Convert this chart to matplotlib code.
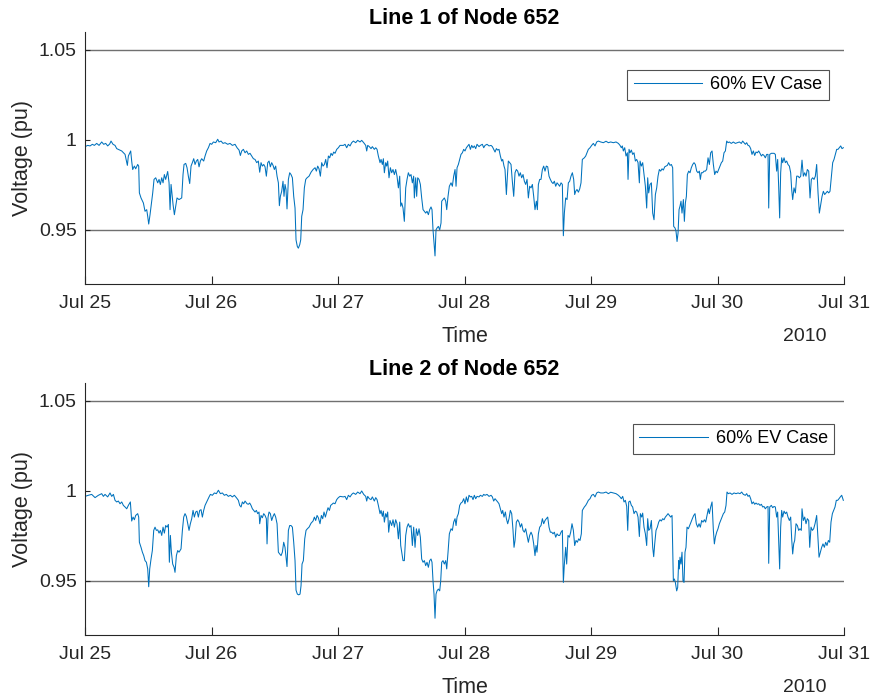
import numpy as np
import pandas as pd
import matplotlib
matplotlib.use('Agg')
import matplotlib.pyplot as plt
import matplotlib.dates as mdates

plt.rcParams['font.family'] = ['Liberation Sans', 'DejaVu Sans']

# hours after 2010-07-25 00:00, voltage in pu
line1 = [
    (0.00, 0.9963), (0.51, 0.9970), (0.95, 0.9967), (1.39, 0.9976), (1.77, 0.9970), (2.21, 0.9981),
    (2.66, 0.9970), (3.16, 0.9989), (3.54, 0.9976), (3.92, 0.9981), (4.30, 0.9967), (4.68, 0.9978),
    (4.93, 0.9994), (5.31, 0.9976), (5.69, 0.9970), (6.01, 0.9952), (6.96, 0.9939), (7.59, 0.9920),
    (8.03, 0.9859), (8.22, 0.9911), (8.66, 0.9939), (8.85, 0.9883), (9.04, 0.9836), (9.36, 0.9855),
    (9.61, 0.9840), (9.99, 0.9864), (10.18, 0.9855), (10.31, 0.9706), (10.62, 0.9678), (11.07, 0.9650),
    (11.38, 0.9604), (11.70, 0.9613), (11.89, 0.9576), (12.08, 0.9533), (12.33, 0.9585), (12.65, 0.9660),
    (12.84, 0.9706), (13.09, 0.9781), (13.41, 0.9790), (13.79, 0.9762), (14.04, 0.9781), (14.29, 0.9753),
    (14.55, 0.9790), (14.80, 0.9762), (15.05, 0.9808), (15.30, 0.9781), (15.68, 0.9825), (15.94, 0.9762),
    (16.13, 0.9613), (16.32, 0.9753), (16.51, 0.9697), (16.70, 0.9641), (16.95, 0.9585), (17.20, 0.9632),
    (17.45, 0.9678), (17.83, 0.9669), (18.34, 0.9678), (18.59, 0.9808), (18.78, 0.9864), (19.10, 0.9870),
    (19.35, 0.9846), (19.60, 0.9799), (19.86, 0.9758), (20.11, 0.9855), (20.36, 0.9874), (20.62, 0.9896),
    (20.87, 0.9864), (21.12, 0.9883), (21.38, 0.9892), (21.63, 0.9851), (21.88, 0.9883), (22.13, 0.9896),
    (22.51, 0.9883), (22.77, 0.9911), (23.08, 0.9939), (23.40, 0.9957), (23.72, 0.9981), (24.03, 0.9976),
    (24.35, 0.9989), (24.79, 0.9985), (25.17, 1.0004), (25.42, 0.9989), (25.80, 0.9994), (26.18, 0.9981),
    (26.56, 0.9985), (27.07, 0.9976), (27.51, 0.9981), (27.95, 0.9970), (28.46, 0.9976), (28.84, 0.9957),
    (29.22, 0.9944), (29.47, 0.9914), (29.72, 0.9939), (30.04, 0.9948), (30.36, 0.9929), (30.67, 0.9939),
    (30.99, 0.9920), (31.30, 0.9926), (31.62, 0.9911), (31.94, 0.9896), (32.25, 0.9892), (32.57, 0.9874),
    (32.88, 0.9883), (33.14, 0.9821), (33.39, 0.9874), (33.64, 0.9855), (33.90, 0.9864), (34.15, 0.9851),
    (34.40, 0.9799), (34.66, 0.9874), (34.91, 0.9883), (35.16, 0.9851), (35.41, 0.9874), (35.67, 0.9859),
    (35.92, 0.9836), (36.17, 0.9855), (36.43, 0.9799), (36.68, 0.9762), (36.87, 0.9635), (37.06, 0.9687),
    (37.31, 0.9715), (37.56, 0.9771), (37.75, 0.9687), (37.94, 0.9753), (38.13, 0.9725), (38.32, 0.9617),
    (38.58, 0.9781), (38.83, 0.9818), (39.08, 0.9808), (39.34, 0.9790), (39.59, 0.9687), (39.84, 0.9622),
    (40.03, 0.9445), (40.28, 0.9408), (40.47, 0.9399), (40.73, 0.9418), (40.92, 0.9445), (41.11, 0.9576),
    (41.36, 0.9613), (41.61, 0.9734), (41.87, 0.9781), (42.12, 0.9790), (42.50, 0.9799), (42.88, 0.9821),
    (43.26, 0.9836), (43.64, 0.9846), (43.89, 0.9827), (44.14, 0.9855), (44.39, 0.9840), (44.65, 0.9799),
    (44.90, 0.9874), (45.15, 0.9855), (45.41, 0.9864), (45.66, 0.9892), (45.91, 0.9846), (46.17, 0.9911),
    (46.42, 0.9901), (46.67, 0.9926), (46.92, 0.9914), (47.18, 0.9933), (47.43, 0.9926), (47.75, 0.9948),
    (48.06, 0.9957), (48.38, 0.9970),
    (49.01, 0.9970), (49.33, 0.9976), (49.64, 0.9957), (49.96, 0.9976), (50.28, 0.9967), (50.59, 0.9985),
    (50.91, 0.9994), (51.35, 0.9985), (51.73, 0.9998), (52.17, 0.9989), (52.49, 0.9998), (52.87, 0.9985),
    (53.25, 0.9970), (53.44, 0.9939), (53.63, 0.9970), (53.94, 0.9963), (54.26, 0.9952), (54.51, 0.9963),
    (54.89, 0.9948), (55.15, 0.9957), (55.40, 0.9948), (55.65, 0.9911), (55.97, 0.9874), (56.16, 0.9892),
    (56.41, 0.9864), (56.60, 0.9896), (56.79, 0.9818), (57.04, 0.9874), (57.23, 0.9855), (57.42, 0.9883),
    (57.67, 0.9790), (57.93, 0.9846), (58.18, 0.9818), (58.43, 0.9836), (58.69, 0.9808), (58.94, 0.9836),
    (59.19, 0.9799), (59.45, 0.9734), (59.70, 0.9799), (59.89, 0.9632), (60.08, 0.9650), (60.33, 0.9622),
    (60.58, 0.9548), (60.84, 0.9734), (61.09, 0.9781), (61.34, 0.9818), (61.60, 0.9799), (61.85, 0.9808),
    (62.10, 0.9762), (62.35, 0.9799), (62.48, 0.9678), (62.73, 0.9790), (62.92, 0.9687), (63.11, 0.9790),
    (63.37, 0.9781), (63.62, 0.9753), (63.87, 0.9678), (64.13, 0.9613), (64.38, 0.9604), (64.63, 0.9594),
    (64.88, 0.9604), (65.14, 0.9585), (65.39, 0.9613), (65.64, 0.9628), (65.83, 0.9613), (66.02, 0.9501),
    (66.21, 0.9427), (66.40, 0.9356), (66.59, 0.9501), (66.78, 0.9511), (67.03, 0.9520), (67.29, 0.9501),
    (67.54, 0.9539), (67.67, 0.9660), (67.92, 0.9669), (68.17, 0.9678), (68.43, 0.9660), (68.62, 0.9613),
    (68.87, 0.9687), (69.12, 0.9743), (69.44, 0.9762), (69.69, 0.9743), (69.94, 0.9799), (70.20, 0.9836),
    (70.39, 0.9743), (70.58, 0.9846), (70.83, 0.9864), (71.08, 0.9892), (71.33, 0.9920), (71.59, 0.9929),
    (71.84, 0.9948), (72.09, 0.9939), (72.35, 0.9957), (72.60, 0.9967), (72.85, 0.9976), (73.11, 0.9948),
    (73.36, 0.9970), (73.61, 0.9957), (73.86, 0.9967), (74.12, 0.9952), (74.37, 0.9976), (74.75, 0.9963),
    (75.00, 0.9970), (75.38, 0.9976), (75.64, 0.9957), (75.89, 0.9970), (76.27, 0.9976), (76.65, 0.9967),
    (77.03, 0.9970), (77.28, 0.9963), (77.53, 0.9948), (77.79, 0.9933), (78.04, 0.9952), (78.29, 0.9944),
    (78.54, 0.9948), (78.80, 0.9911), (79.05, 0.9883), (79.24, 0.9892), (79.49, 0.9855), (79.68, 0.9836),
    (79.94, 0.9697), (80.13, 0.9799), (80.31, 0.9883), (80.57, 0.9874), (80.82, 0.9864), (81.07, 0.9771),
    (81.33, 0.9687), (81.58, 0.9818), (81.83, 0.9836), (82.09, 0.9827), (82.34, 0.9799), (82.59, 0.9818),
    (82.84, 0.9790), (83.10, 0.9808), (83.35, 0.9771), (83.60, 0.9753), (83.86, 0.9781), (84.11, 0.9678),
    (84.36, 0.9743), (84.62, 0.9734), (84.87, 0.9753), (85.12, 0.9687), (85.37, 0.9613), (85.63, 0.9660),
    (85.82, 0.9613), (86.01, 0.9753), (86.26, 0.9781), (86.51, 0.9781), (86.77, 0.9836), (87.02, 0.9855),
    (87.27, 0.9827), (87.52, 0.9855), (87.78, 0.9851), (88.03, 0.9799), (88.28, 0.9781), (88.54, 0.9766),
    (88.79, 0.9758), (89.04, 0.9771), (89.30, 0.9743), (89.55, 0.9762), (89.80, 0.9753), (90.05, 0.9743),
    (90.31, 0.9762), (90.56, 0.9753), (90.75, 0.9468), (90.94, 0.9594), (91.19, 0.9678), (91.45, 0.9669),
    (91.70, 0.9762), (91.95, 0.9771), (92.20, 0.9799), (92.46, 0.9818), (92.71, 0.9781), (92.90, 0.9697),
    (93.09, 0.9715), (93.34, 0.9725), (93.60, 0.9710), (93.85, 0.9728), (94.10, 0.9762), (94.35, 0.9892),
    (94.73, 0.9901), (94.99, 0.9911), (95.24, 0.9929), (95.49, 0.9948), (95.81, 0.9957), (96.12, 0.9970),
    (96.44, 0.9981), (96.76, 0.9967),
    (97.07, 0.9989), (97.39, 0.9994), (97.83, 0.9989), (98.34, 0.9985), (98.85, 0.9993), (99.29, 0.9985),
    (99.73, 0.9989), (100.24, 0.9985), (100.74, 0.9989), (101.19, 0.9981), (101.50, 0.9970), (101.75, 0.9957),
    (101.94, 0.9967), (102.13, 0.9939), (102.39, 0.9957), (102.64, 0.9911), (102.89, 0.9929), (103.02, 0.9781),
    (103.21, 0.9948), (103.40, 0.9929), (103.65, 0.9944), (103.90, 0.9920), (104.16, 0.9929), (104.41, 0.9883),
    (104.66, 0.9892), (104.92, 0.9874), (105.17, 0.9762), (105.30, 0.9883), (105.55, 0.9855), (105.80, 0.9874),
    (106.05, 0.9808), (106.31, 0.9743), (106.56, 0.9622), (106.75, 0.9790), (106.94, 0.9706), (107.19, 0.9753),
    (107.45, 0.9762), (107.70, 0.9594), (107.95, 0.9557), (108.21, 0.9697), (108.46, 0.9734), (108.71, 0.9799),
    (108.96, 0.9836), (109.22, 0.9827), (109.47, 0.9840), (109.72, 0.9833), (109.98, 0.9851), (110.23, 0.9855),
    (110.48, 0.9859), (110.73, 0.9874), (110.99, 0.9859), (111.24, 0.9864), (111.49, 0.9846), (111.68, 0.9520),
    (111.94, 0.9511), (112.13, 0.9492), (112.32, 0.9436), (112.51, 0.9483), (112.70, 0.9613), (112.88, 0.9632),
    (113.07, 0.9660), (113.26, 0.9594), (113.52, 0.9669), (113.71, 0.9548), (113.90, 0.9650), (114.09, 0.9687),
    (114.28, 0.9808), (114.53, 0.9827), (114.78, 0.9818), (115.03, 0.9846), (115.29, 0.9864), (115.54, 0.9874),
    (115.79, 0.9864), (116.05, 0.9827), (116.30, 0.9818), (116.55, 0.9827), (116.74, 0.9781), (116.93, 0.9818),
    (117.19, 0.9818), (117.44, 0.9827), (117.69, 0.9827), (117.94, 0.9836), (118.20, 0.9901), (118.45, 0.9864),
    (118.70, 0.9929), (118.96, 0.9939), (119.21, 0.9864), (119.46, 0.9808), (119.71, 0.9827), (119.97, 0.9818),
    (120.22, 0.9836), (120.47, 0.9855), (120.73, 0.9874), (120.98, 0.9883), (121.23, 0.9929), (121.49, 0.9939),
    (121.74, 0.9994), (121.99, 0.9985), (122.24, 0.9989), (122.62, 0.9981), (123.00, 0.9989), (123.38, 0.9981),
    (123.76, 0.9985), (124.14, 0.9989), (124.52, 0.9981), (124.77, 0.9994), (125.03, 0.9985), (125.28, 0.9976),
    (125.53, 0.9985), (125.79, 0.9970), (126.04, 0.9967), (126.29, 0.9952), (126.54, 0.9920), (126.80, 0.9939),
    (127.05, 0.9914), (127.30, 0.9933), (127.56, 0.9929), (127.81, 0.9939), (128.06, 0.9926), (128.32, 0.9911),
    (128.57, 0.9920), (128.82, 0.9914), (129.07, 0.9901), (129.33, 0.9920), (129.58, 0.9920), (129.71, 0.9622),
    (129.90, 0.9920), (130.21, 0.9926), (130.47, 0.9926), (130.72, 0.9926), (130.97, 0.9920), (131.22, 0.9827),
    (131.41, 0.9892), (131.60, 0.9743), (131.79, 0.9567), (131.98, 0.9818), (132.17, 0.9901), (132.36, 0.9874),
    (132.62, 0.9901), (132.87, 0.9874), (133.12, 0.9883), (133.37, 0.9864), (133.63, 0.9855), (133.88, 0.9818),
    (134.07, 0.9725), (134.26, 0.9669), (134.51, 0.9734), (134.77, 0.9706), (135.02, 0.9799), (135.27, 0.9799),
    (135.53, 0.9790), (135.78, 0.9799), (136.03, 0.9888), (136.28, 0.9799), (136.54, 0.9818), (136.79, 0.9799),
    (137.04, 0.9836), (137.30, 0.9827), (137.55, 0.9678), (137.80, 0.9781), (138.05, 0.9790), (138.31, 0.9781),
    (138.56, 0.9799), (138.81, 0.9864), (139.07, 0.9706), (139.32, 0.9594), (139.57, 0.9641), (139.83, 0.9687),
    (140.08, 0.9715), (140.33, 0.9697), (140.58, 0.9706), (140.84, 0.9715), (141.09, 0.9706), (141.34, 0.9715),
    (141.60, 0.9799), (141.85, 0.9874), (142.10, 0.9892), (142.35, 0.9920), (142.61, 0.9948), (142.86, 0.9948),
    (143.11, 0.9957), (143.37, 0.9967), (143.62, 0.9952), (143.87, 0.9957),
]

line2 = [
    (0.00, 0.9970), (0.63, 0.9976), (1.26, 0.9981), (1.90, 0.9963), (2.53, 0.9976), (3.16, 0.9985),
    (3.48, 0.9970), (3.79, 0.9981), (4.30, 0.9967), (4.74, 0.9989), (5.06, 0.9970), (5.38, 0.9981),
    (5.69, 0.9948), (6.01, 0.9939), (6.32, 0.9944), (6.64, 0.9929), (6.96, 0.9939), (7.27, 0.9920),
    (7.59, 0.9911), (7.91, 0.9901), (8.22, 0.9920), (8.60, 0.9939), (8.85, 0.9833), (9.11, 0.9855),
    (9.36, 0.9840), (9.61, 0.9864), (9.99, 0.9874), (10.18, 0.9855), (10.31, 0.9715), (10.62, 0.9687),
    (10.88, 0.9660), (11.13, 0.9641), (11.38, 0.9613), (11.64, 0.9604), (11.89, 0.9567), (12.08, 0.9468),
    (12.27, 0.9567), (12.52, 0.9622), (12.77, 0.9669), (13.03, 0.9781), (13.28, 0.9799), (13.53, 0.9781),
    (13.79, 0.9784), (14.04, 0.9766), (14.29, 0.9781), (14.55, 0.9753), (14.80, 0.9799), (15.05, 0.9766),
    (15.30, 0.9808), (15.56, 0.9799), (15.81, 0.9814), (16.00, 0.9604), (16.19, 0.9753), (16.38, 0.9660),
    (16.63, 0.9594), (16.89, 0.9576), (17.07, 0.9548), (17.33, 0.9641), (17.58, 0.9669), (17.83, 0.9660),
    (18.21, 0.9678), (18.47, 0.9781), (18.72, 0.9855), (18.97, 0.9874), (19.22, 0.9859), (19.48, 0.9818),
    (19.73, 0.9781), (19.98, 0.9818), (20.24, 0.9846), (20.49, 0.9892), (20.74, 0.9855), (21.00, 0.9883),
    (21.25, 0.9888), (21.50, 0.9855), (21.75, 0.9892), (22.01, 0.9896), (22.26, 0.9855), (22.51, 0.9892),
    (22.77, 0.9920), (23.15, 0.9944), (23.53, 0.9967), (23.78, 0.9981), (24.16, 0.9976), (24.54, 0.9989),
    (24.92, 0.9985), (25.30, 1.0004), (25.68, 0.9985), (26.06, 0.9989), (26.43, 0.9976), (26.81, 0.9981),
    (27.19, 0.9970), (27.57, 0.9976), (27.95, 0.9967), (28.33, 0.9976), (28.71, 0.9963), (29.09, 0.9948),
    (29.34, 0.9920), (29.60, 0.9911), (29.85, 0.9939), (30.10, 0.9929), (30.36, 0.9944), (30.73, 0.9929),
    (30.99, 0.9926), (31.24, 0.9933), (31.49, 0.9920), (31.75, 0.9901), (32.00, 0.9892), (32.25, 0.9883),
    (32.51, 0.9892), (32.76, 0.9874), (33.01, 0.9883), (33.14, 0.9818), (33.39, 0.9864), (33.64, 0.9851),
    (33.90, 0.9874), (34.15, 0.9864), (34.40, 0.9846), (34.53, 0.9706), (34.72, 0.9855), (34.91, 0.9883),
    (35.16, 0.9874), (35.41, 0.9836), (35.67, 0.9859), (35.92, 0.9874), (36.17, 0.9855), (36.43, 0.9818),
    (36.68, 0.9660), (36.93, 0.9650), (37.19, 0.9641), (37.44, 0.9660), (37.69, 0.9715), (37.94, 0.9687),
    (38.20, 0.9613), (38.32, 0.9580), (38.58, 0.9781), (38.83, 0.9808), (39.08, 0.9808), (39.34, 0.9799),
    (39.59, 0.9715), (39.84, 0.9613), (40.03, 0.9449), (40.28, 0.9427), (40.54, 0.9423), (40.79, 0.9427),
    (40.98, 0.9474), (41.17, 0.9594), (41.42, 0.9613), (41.68, 0.9734), (41.93, 0.9781), (42.18, 0.9790),
    (42.50, 0.9799), (42.88, 0.9821), (43.26, 0.9833), (43.51, 0.9855), (43.76, 0.9836), (44.02, 0.9864),
    (44.27, 0.9851), (44.58, 0.9818), (44.84, 0.9864), (45.09, 0.9846), (45.34, 0.9883), (45.60, 0.9855),
    (45.85, 0.9883), (46.10, 0.9907), (46.36, 0.9892), (46.61, 0.9920), (46.86, 0.9926), (47.11, 0.9933),
    (47.43, 0.9929), (47.75, 0.9952), (48.06, 0.9963), (48.38, 0.9970),
    (49.01, 0.9967), (49.33, 0.9970), (49.64, 0.9952), (49.96, 0.9976), (50.28, 0.9967), (50.59, 0.9981),
    (50.91, 0.9989), (51.35, 0.9981), (51.73, 0.9994), (52.17, 0.9985), (52.49, 1.0000), (52.87, 0.9981),
    (53.25, 0.9970), (53.44, 0.9944), (53.63, 0.9970), (53.94, 0.9957), (54.26, 0.9952), (54.51, 0.9967),
    (54.89, 0.9944), (55.15, 0.9963), (55.40, 0.9952), (55.65, 0.9920), (55.97, 0.9874), (56.16, 0.9892),
    (56.41, 0.9859), (56.60, 0.9888), (56.79, 0.9827), (57.04, 0.9874), (57.23, 0.9855), (57.42, 0.9883),
    (57.61, 0.9771), (57.86, 0.9836), (58.18, 0.9808), (58.43, 0.9840), (58.69, 0.9799), (58.94, 0.9840),
    (59.19, 0.9818), (59.45, 0.9734), (59.70, 0.9827), (59.89, 0.9697), (60.08, 0.9660), (60.33, 0.9613),
    (60.58, 0.9613), (60.84, 0.9753), (61.09, 0.9799), (61.34, 0.9818), (61.60, 0.9799), (61.85, 0.9808),
    (62.10, 0.9697), (62.35, 0.9799), (62.61, 0.9687), (62.86, 0.9790), (63.11, 0.9753), (63.37, 0.9790),
    (63.62, 0.9743), (63.87, 0.9622), (64.13, 0.9604), (64.38, 0.9613), (64.63, 0.9585), (64.88, 0.9604),
    (65.14, 0.9576), (65.39, 0.9613), (65.64, 0.9622), (65.83, 0.9604), (66.02, 0.9501), (66.21, 0.9427),
    (66.40, 0.9293), (66.59, 0.9427), (66.78, 0.9445), (67.03, 0.9455), (67.29, 0.9445), (67.48, 0.9501),
    (67.67, 0.9604), (67.92, 0.9613), (68.17, 0.9594), (68.43, 0.9613), (68.62, 0.9567), (68.87, 0.9660),
    (69.12, 0.9762), (69.44, 0.9790), (69.69, 0.9781), (69.94, 0.9827), (70.20, 0.9846), (70.39, 0.9808),
    (70.58, 0.9855), (70.83, 0.9874), (71.08, 0.9920), (71.33, 0.9933), (71.59, 0.9939), (71.84, 0.9957),
    (72.09, 0.9929), (72.35, 0.9967), (72.60, 0.9939), (72.85, 0.9976), (73.11, 0.9967), (73.36, 0.9970),
    (73.61, 0.9952), (73.86, 0.9976), (74.12, 0.9957), (74.37, 0.9970), (74.75, 0.9967), (75.00, 0.9976),
    (75.38, 0.9970), (75.64, 0.9981), (75.89, 0.9976), (76.27, 0.9981), (76.65, 0.9970), (77.03, 0.9976),
    (77.28, 0.9967), (77.53, 0.9944), (77.79, 0.9957), (78.04, 0.9948), (78.29, 0.9939), (78.54, 0.9929),
    (78.80, 0.9901), (79.05, 0.9874), (79.24, 0.9892), (79.49, 0.9855), (79.75, 0.9883), (79.94, 0.9846),
    (80.19, 0.9818), (80.44, 0.9846), (80.69, 0.9892), (80.95, 0.9874), (81.20, 0.9781), (81.39, 0.9687),
    (81.58, 0.9725), (81.83, 0.9827), (82.09, 0.9840), (82.34, 0.9827), (82.59, 0.9799), (82.84, 0.9818),
    (83.10, 0.9781), (83.35, 0.9771), (83.60, 0.9790), (83.86, 0.9753), (84.11, 0.9715), (84.36, 0.9753),
    (84.62, 0.9771), (84.87, 0.9753), (85.12, 0.9706), (85.37, 0.9641), (85.56, 0.9697), (85.75, 0.9660),
    (86.01, 0.9762), (86.26, 0.9799), (86.51, 0.9808), (86.77, 0.9846), (87.02, 0.9818), (87.27, 0.9836),
    (87.52, 0.9846), (87.78, 0.9855), (88.03, 0.9799), (88.28, 0.9771), (88.54, 0.9771), (88.79, 0.9762),
    (89.04, 0.9771), (89.30, 0.9743), (89.55, 0.9762), (89.80, 0.9753), (90.05, 0.9753), (90.31, 0.9771),
    (90.56, 0.9781), (90.75, 0.9492), (90.94, 0.9594), (91.19, 0.9687), (91.38, 0.9594), (91.63, 0.9753),
    (91.89, 0.9743), (92.14, 0.9771), (92.39, 0.9818), (92.65, 0.9781), (92.90, 0.9697), (93.15, 0.9725),
    (93.41, 0.9715), (93.66, 0.9734), (93.91, 0.9725), (94.16, 0.9762), (94.35, 0.9892), (94.73, 0.9911),
    (94.99, 0.9920), (95.24, 0.9933), (95.49, 0.9948), (95.81, 0.9957), (96.12, 0.9976), (96.44, 0.9981),
    (96.76, 0.9967),
    (97.07, 0.9989), (97.39, 0.9994), (97.83, 0.9989), (98.34, 0.9989), (98.85, 0.9994), (99.29, 0.9985),
    (99.73, 0.9993), (100.24, 0.9989), (100.74, 0.9985), (101.19, 0.9976), (101.50, 0.9967), (101.75, 0.9957),
    (102.01, 0.9970), (102.26, 0.9939), (102.51, 0.9948), (102.77, 0.9914), (102.96, 0.9781), (103.15, 0.9939),
    (103.40, 0.9944), (103.65, 0.9920), (103.90, 0.9911), (104.16, 0.9874), (104.41, 0.9888), (104.66, 0.9883),
    (104.92, 0.9855), (105.17, 0.9747), (105.36, 0.9874), (105.61, 0.9855), (105.80, 0.9877), (106.05, 0.9799),
    (106.31, 0.9762), (106.56, 0.9697), (106.75, 0.9846), (106.94, 0.9781), (107.19, 0.9790), (107.45, 0.9836),
    (107.70, 0.9687), (107.89, 0.9635), (108.08, 0.9706), (108.33, 0.9781), (108.58, 0.9799), (108.84, 0.9827),
    (109.09, 0.9840), (109.34, 0.9833), (109.60, 0.9846), (109.85, 0.9840), (110.10, 0.9855), (110.36, 0.9864),
    (110.61, 0.9874), (110.86, 0.9864), (111.11, 0.9855), (111.37, 0.9864), (111.62, 0.9501), (111.81, 0.9511),
    (112.00, 0.9492), (112.25, 0.9445), (112.44, 0.9464), (112.63, 0.9613), (112.76, 0.9567), (112.88, 0.9632),
    (113.07, 0.9594), (113.26, 0.9660), (113.45, 0.9501), (113.64, 0.9492), (113.83, 0.9660), (114.02, 0.9687),
    (114.21, 0.9799), (114.47, 0.9790), (114.72, 0.9808), (114.97, 0.9827), (115.22, 0.9846), (115.48, 0.9864),
    (115.73, 0.9874), (115.98, 0.9818), (116.24, 0.9799), (116.49, 0.9818), (116.74, 0.9799), (116.99, 0.9836),
    (117.25, 0.9827), (117.50, 0.9840), (117.75, 0.9827), (118.01, 0.9864), (118.26, 0.9901), (118.45, 0.9874),
    (118.70, 0.9911), (118.96, 0.9939), (119.21, 0.9781), (119.40, 0.9706), (119.59, 0.9743), (119.84, 0.9771),
    (120.09, 0.9790), (120.35, 0.9818), (120.60, 0.9836), (120.85, 0.9855), (121.11, 0.9874), (121.36, 0.9883),
    (121.61, 0.9920), (121.80, 0.9994), (122.05, 0.9985), (122.37, 0.9989), (122.75, 0.9981), (123.13, 0.9989),
    (123.51, 0.9985), (123.89, 0.9989), (124.27, 0.9985), (124.58, 0.9994), (124.90, 0.9981), (125.28, 0.9976),
    (125.53, 0.9985), (125.79, 0.9970), (126.04, 0.9976), (126.29, 0.9957), (126.54, 0.9929), (126.80, 0.9939),
    (127.05, 0.9926), (127.30, 0.9933), (127.56, 0.9926), (127.81, 0.9929), (128.06, 0.9920), (128.32, 0.9926),
    (128.57, 0.9911), (128.82, 0.9914), (129.07, 0.9901), (129.33, 0.9911), (129.58, 0.9914), (129.71, 0.9598),
    (129.90, 0.9911), (130.21, 0.9920), (130.47, 0.9907), (130.72, 0.9914), (130.97, 0.9911), (131.22, 0.9855),
    (131.41, 0.9883), (131.60, 0.9725), (131.79, 0.9567), (131.98, 0.9799), (132.17, 0.9892), (132.36, 0.9855),
    (132.62, 0.9888), (132.87, 0.9874), (133.12, 0.9883), (133.37, 0.9855), (133.63, 0.9836), (133.88, 0.9855),
    (134.07, 0.9734), (134.26, 0.9650), (134.45, 0.9706), (134.64, 0.9725), (134.89, 0.9818), (135.15, 0.9808),
    (135.40, 0.9781), (135.65, 0.9790), (135.90, 0.9781), (136.03, 0.9901), (136.28, 0.9836), (136.54, 0.9855),
    (136.79, 0.9818), (137.04, 0.9846), (137.30, 0.9836), (137.49, 0.9687), (137.74, 0.9799), (137.99, 0.9781),
    (138.24, 0.9790), (138.50, 0.9818), (138.81, 0.9864), (139.07, 0.9725), (139.26, 0.9632), (139.51, 0.9660),
    (139.76, 0.9687), (140.01, 0.9706), (140.27, 0.9687), (140.52, 0.9715), (140.77, 0.9697), (141.03, 0.9725),
    (141.28, 0.9715), (141.53, 0.9827), (141.79, 0.9874), (142.04, 0.9892), (142.29, 0.9911), (142.54, 0.9948),
    (142.80, 0.9948), (143.05, 0.9957), (143.30, 0.9967), (143.56, 0.9976), (143.87, 0.9948),
]

titles = ['Line 1 of Node 652', 'Line 2 of Node 652']
series_label = '60% EV Case'
limit_lines = [1.05, 0.95]
yticks = [0.95, 1.0, 1.05]
ytick_labels = ['0.95', '1', '1.05']

start = pd.Timestamp('2010-07-25')
end = pd.Timestamp('2010-07-31')

blue = '#0072BD'
dark = '#262626'

fig = plt.figure(figsize=(8.74, 7.0), dpi=100)
positions = [[0.0973, 0.5943, 0.8684, 0.36], [0.0973, 0.0929, 0.8684, 0.36]]
legend_anchor = [(0.980, 0.849), (0.987, 0.837)]

for k, data in enumerate([line1, line2]):
    ax = fig.add_axes(positions[k])
    hrs, volts = zip(*data)
    t = start + pd.to_timedelta(np.array(hrs), unit='h')
    ax.plot(t, volts, color=blue, lw=0.75, label=series_label)
    for yv in limit_lines:
        ax.axhline(yv, color='#707070', lw=1.0, zorder=1)

    ax.set_xlim(start, end)
    ax.set_ylim(0.92, 1.06)
    ax.set_yticks(yticks)
    ax.set_yticklabels(ytick_labels)
    ax.xaxis.set_major_locator(mdates.DayLocator())
    ax.xaxis.set_major_formatter(mdates.DateFormatter('%b %d'))

    for s in ['top', 'right']:
        ax.spines[s].set_visible(False)
    for s in ['left', 'bottom']:
        ax.spines[s].set_color(dark)
        ax.spines[s].set_linewidth(0.8)
    ax.tick_params(axis='x', direction='in', length=6, width=0.8, colors=dark,
                   labelsize=14, pad=8)
    ax.tick_params(axis='y', direction='in', length=3.5, width=0.8, colors=dark,
                   labelsize=14, pad=6)

    ax.set_title(titles[k], fontsize=15.5, fontweight='bold', pad=6)
    ax.set_ylabel('Voltage (pu)', fontsize=15.5, color=dark, labelpad=4)
    ax.set_xlabel('Time', fontsize=15.5, color=dark, labelpad=10)
    ax.annotate('2010', xy=(0.948, 0), xycoords='axes fraction',
                xytext=(0, -41), textcoords='offset points',
                ha='center', va='baseline', fontsize=14, color=dark)

    leg = ax.legend(loc='upper right', bbox_to_anchor=legend_anchor[k],
                    borderaxespad=0, fontsize=13, frameon=True, fancybox=False,
                    edgecolor=dark, handlelength=3.8, handletextpad=0.45,
                    borderpad=0.35)
    leg.get_frame().set_linewidth(0.8)

fig.savefig('out.png', dpi=100)
